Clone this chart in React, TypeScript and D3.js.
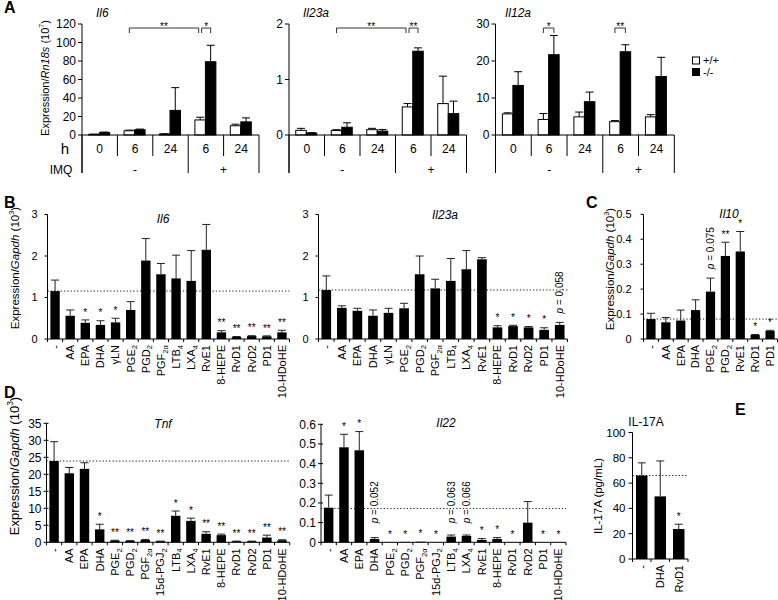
import React from 'react';
import * as d3 from 'd3';

const FONT = "'Liberation Sans', Arial, Helvetica, sans-serif";

// ---------------- Panel A data ----------------
const aTimes = ['0', '6', '24', '6', '24'];
const aImq = ['-', '+'];
const aLegend = ['+/+', '-/-'];

const aIl6Wt = [0.7, 4.6, 1.1, 16.3, 10.0];
const aIl6WtSem = [0.2, 0.7, 0.2, 2.9, 1.7];
const aIl6Ko = [2.5, 5.7, 26.6, 79.2, 14.2];
const aIl6KoSem = [0.7, 0.7, 24.6, 17.8, 4.3];

const aIl23Wt = [0.084, 0.08, 0.096, 0.506, 0.566];
const aIl23WtSem = [0.036, 0.016, 0.024, 0.06, 0.494];
const aIl23Ko = [0.036, 0.14, 0.07, 1.51, 0.385];
const aIl23KoSem = [0.005, 0.08, 0.03, 0.06, 0.225];

const aIl12Wt = [5.7, 4.2, 4.9, 3.6, 4.9];
const aIl12WtSem = [0.3, 1.6, 1.3, 0.3, 0.6];
const aIl12Ko = [13.4, 21.7, 9.0, 22.5, 15.8];
const aIl12KoSem = [3.7, 5.2, 2.6, 1.9, 5.2];

// ---------------- Panel B data ----------------
const bCats = ['-', 'AA', 'EPA', 'DHA', 'γLN', 'PGE_2', 'PGD_2', 'PGF_2α', 'LTB_4', 'LXA_4', 'RvE1', '8-HEPE', 'RvD1', 'RvD2', 'PD1', '10-HDoHE'];
const bIl6 = [1.155, 0.56, 0.39, 0.34, 0.4, 0.7, 1.89, 1.56, 1.46, 1.4, 2.15, 0.16, 0.05, 0.07, 0.065, 0.16];
const bIl6Sem = [0.265, 0.14, 0.07, 0.1, 0.1, 0.2, 0.53, 0.26, 0.56, 0.73, 0.61, 0.04, 0.01, 0.01, 0.01, 0.05];
const bIl6Sig = ['', '', '*', '*', '*', '', '', '', '', '', '', '**', '**', '**', '**', '**'];
const bIl23 = [1.18, 0.75, 0.68, 0.56, 0.63, 0.74, 1.56, 1.22, 1.4, 1.68, 1.92, 0.28, 0.31, 0.28, 0.22, 0.34];
const bIl23Sem = [0.34, 0.05, 0.06, 0.14, 0.11, 0.12, 0.44, 0.22, 0.54, 0.45, 0.04, 0.04, 0.02, 0.02, 0.05, 0.06];
const bIl23Sig = ['', '', '', '', '', '', '', '', '', '', '', '*', '*', '*', '*', ''];
const bIl23P = ['', '', '', '', '', '', '', '', '', '', '', '', '', '', '', '0.058'];

// ---------------- Panel C data ----------------
const cCats = ['-', 'AA', 'EPA', 'DHA', 'PGE_2', 'PGD_2', 'RvE1', 'RvD1', 'PD1'];
const cIl10 = [0.08, 0.067, 0.074, 0.116, 0.19, 0.333, 0.351, 0.016, 0.032];
const cIl10Sem = [0.023, 0.019, 0.042, 0.041, 0.054, 0.055, 0.08, 0.002, 0.003];
const cIl10Sig = ['', '', '', '', '', '**', '*', '*', '*'];
const cIl10P = ['', '', '', '', '0.075', '', '', '', ''];

// ---------------- Panel D data ----------------
const dCats = ['-', 'AA', 'EPA', 'DHA', 'PGE_2', 'PGD_2', 'PGF_2α', '15d-PGJ_2', 'LTB_4', 'LXA_4', 'RvE1', '8-HEPE', 'RvD1', 'RvD2', 'PD1', '10-HDoHE'];
const dTnf = [23.9, 20.3, 21.6, 3.8, 0.5, 0.4, 0.7, 0.3, 7.8, 6.3, 2.5, 2.1, 0.3, 0.3, 1.4, 0.6];
const dTnfSem = [5.7, 1.7, 1.8, 1.5, 0.1, 0.1, 0.15, 0.05, 1.4, 0.8, 0.6, 0.3, 0.05, 0.05, 0.7, 0.15];
const dTnfSig = ['', '', '', '*', '**', '**', '**', '**', '*', '*', '**', '**', '**', '**', '**', '**'];
const dIl22 = [0.176, 0.483, 0.468, 0.017, 0.001, 0.002, 0.003, 0.0005, 0.029, 0.032, 0.012, 0.017, 0.0005, 0.1, 0.0005, 0.0005];
const dIl22Sem = [0.064, 0.066, 0.095, 0.007, 0, 0, 0, 0, 0.008, 0.005, 0.007, 0.007, 0, 0.107, 0, 0];
const dIl22Sig = ['', '*', '*', '', '*', '*', '*', '*', '', '', '*', '*', '*', '', '*', '*'];
const dIl22P = ['', '', '', '0.052', '', '', '', '', '0.063', '0.066', '', '', '', '', '', ''];

// ---------------- Panel E data ----------------
const eCats = ['-', 'DHA', 'RvD1'];
const eIl17 = [66, 49.5, 23.7];
const eIl17Sem = [10, 28, 3.8];
const eIl17Sig = ['', '', '*'];

const range = (a: number, b: number, s: number) => d3.range(a, b + s / 2, s);

function parseLabel(s: string): [string, string] {
  const i = s.indexOf('_');
  if (i < 0) return [s, ''];
  return [s.slice(0, i), s.slice(i + 1)];
}

function YLabel({ x, cy, fs, gene, exp }: any) {
  return (
    <text transform={`translate(${x},${cy}) rotate(-90)`} textAnchor="middle" dy="0.35em" fontSize={fs}>
      Expression/<tspan fontStyle="italic">{gene}</tspan> (10
      <tspan fontSize={fs * 0.65} dy={-fs * 0.4}>{exp}</tspan>
      <tspan dy={fs * 0.4}>)</tspan>
    </text>
  );
}

function GroupPanel(p: any) {
  const { x0, x1, y0, yTop, max, ticks, title, titleX, wt, wtSem, ko, koSem, brackets, rowLabels } = p;
  const y = d3.scaleLinear().domain([0, max]).range([y0, yTop]);
  const gx = d3.scaleBand<number>().domain(aTimes.map((_, i) => i)).range([x0, x1]);
  const bw = 10.5;
  const barLeft = (g: number, w: number) => (gx(g) as number) + gx.bandwidth() / 2 - bw + w * bw - 0.5;
  const barC = (g: number, w: number) => barLeft(g, w) + bw / 2;
  const bounds = d3.range(aTimes.length + 1).map((i) => x0 + i * gx.bandwidth());
  const yb = yTop + 4;
  const series = [
    { v: wt, s: wtSem, fill: '#fff' },
    { v: ko, s: koSem, fill: '#000' },
  ];
  return (
    <g>
      <text x={titleX} y={17} fontSize={12} fontStyle="italic">{title}</text>
      {ticks.map((t: number) => (
        <g key={t}>
          <line x1={x0 - 4} x2={x0} y1={y(t)} y2={y(t)} stroke="#000" />
          <text x={x0 - 6} y={y(t)} dy="0.35em" textAnchor="end" fontSize={12}>{t}</text>
        </g>
      ))}
      {series.map((sr, w) =>
        sr.v.map((v: number, g: number) => (
          <g key={`${w}-${g}`}>
            <line x1={barC(g, w)} x2={barC(g, w)} y1={y(v)} y2={y(v + sr.s[g])} stroke="#000" />
            <line x1={barC(g, w) - 4} x2={barC(g, w) + 4} y1={y(v + sr.s[g])} y2={y(v + sr.s[g])} stroke="#000" />
            <rect x={barLeft(g, w)} y={y(v)} width={bw} height={y0 - y(v)} fill={sr.fill} stroke="#000" strokeWidth={1} />
          </g>
        ))
      )}
      <line x1={x0} x2={x0} y1={yTop} y2={y0 + 38} stroke="#000" />
      <line x1={x0} x2={x1} y1={y0} y2={y0} stroke="#000" />
      {bounds.map((bx, i) => {
        const long = i === 0 || i === 3 || i === aTimes.length;
        return <line key={i} x1={bx} x2={bx} y1={y0} y2={y0 + (long ? 38 : 21)} stroke="#000" />;
      })}
      {aTimes.map((t, i) => (
        <text key={i} x={(gx(i) as number) + gx.bandwidth() / 2} y={y0 + 18} textAnchor="middle" fontSize={12}>{t}</text>
      ))}
      <text x={(bounds[0] + bounds[3]) / 2} y={y0 + 39} textAnchor="middle" fontSize={12}>{aImq[0]}</text>
      <text x={(bounds[3] + bounds[5]) / 2} y={y0 + 39} textAnchor="middle" fontSize={12}>{aImq[1]}</text>
      {rowLabels && (
        <g>
          <text x={65} y={y0 + 19} textAnchor="middle" fontSize={15}>h</text>
          <text x={61} y={y0 + 39} textAnchor="middle" fontSize={12}>IMQ</text>
        </g>
      )}
      {brackets.map((b: any, i: number) => {
        const xa = barC(b.from[0], b.from[1]) + (b.dA || 0);
        const xz = barC(b.to[0], b.to[1]) + (b.dZ || 0);
        return (
          <g key={i}>
            <path d={`M${xa},${yb + 5}V${yb}H${xz}V${yb + 5}`} fill="none" stroke="#333" />
            <text x={(xa + xz) / 2} y={yb + 1.5} textAnchor="middle" fontSize={10}>{b.label}</text>
          </g>
        );
      })}
    </g>
  );
}

function BarPanel(p: any) {
  const { x0, x1, y0, yTop, max, ticks, fmt, cats, values, sems, sig, pLab, refVal, tickFs, labFs, gap, tickOut, tickIn, title, titleX, titleY } = p;
  const y = d3.scaleLinear().domain([0, max]).range([y0, yTop]);
  const idx = cats.map((_: string, i: number) => i);
  const xb = d3.scaleBand<number>().domain(idx).range([x0, x1]).paddingInner(0.38).paddingOuter(0.19);
  const step = xb.step();
  const f = fmt || ((t: number) => String(t));
  return (
    <g>
      {title && <text x={titleX} y={titleY} fontSize={12} fontStyle="italic" textAnchor="middle">{title}</text>}
      {refVal != null && (
        <line x1={x0} x2={x1} y1={y(refVal)} y2={y(refVal)} stroke="#222" strokeWidth={1} strokeDasharray="1.3 2" />
      )}
      {values.map((v: number, i: number) => {
        const cx = (xb(i) as number) + xb.bandwidth() / 2;
        const top = y(v + sems[i]);
        return (
          <g key={i}>
            {sems[i] > 0 && (
              <g>
                <line x1={cx} x2={cx} y1={y(v)} y2={top} stroke="#222" />
                <line x1={cx - 4} x2={cx + 4} y1={top} y2={top} stroke="#222" />
              </g>
            )}
            <rect x={xb(i)} y={y(v)} width={xb.bandwidth()} height={Math.max(0, y0 - y(v))} fill="#000" />
            {sig[i] && (
              <text x={cx} y={top - 4.3} textAnchor="middle" fontSize={10}>{sig[i]}</text>
            )}
            {pLab && pLab[i] && (
              <text transform={`translate(${cx},${Math.min(top - 9, y0 - 19)}) rotate(-90)`} dy="0.35em" fontSize={10}>
                <tspan fontStyle="italic">p</tspan> = {pLab[i]}
              </text>
            )}
          </g>
        );
      })}
      <line x1={x0} x2={x0} y1={yTop} y2={y0} stroke="#000" />
      <line x1={x0} x2={x1} y1={y0} y2={y0} stroke="#000" />
      {ticks.map((t: number) => (
        <g key={t}>
          <line x1={x0 - tickOut} x2={x0 + tickIn} y1={y(t)} y2={y(t)} stroke="#000" />
          <text x={x0 - gap} y={y(t)} dy="0.35em" textAnchor="end" fontSize={tickFs}>{f(t)}</text>
        </g>
      ))}
      {d3.range(cats.length + 1).map((i) => (
        <line key={i} x1={x0 + i * step} x2={x0 + i * step} y1={y0} y2={y0 + 3} stroke="#000" />
      ))}
      {cats.map((c: string, i: number) => {
        const [main, sub] = parseLabel(c);
        const cx = (xb(i) as number) + xb.bandwidth() / 2;
        return (
          <text key={i} transform={`translate(${cx},${y0 + 6}) rotate(-90)`} textAnchor="end" dy="0.35em" fontSize={labFs}>
            {main}
            {sub && <tspan fontSize={labFs * 0.7} dy={labFs * 0.25}>{sub}</tspan>}
          </text>
        );
      })}
    </g>
  );
}

const dec1 = (t: number) => (t === 0 ? '0' : t.toFixed(1));

export default function App() {
  return (
    <svg width={778} height={600} style={{ position: 'absolute', left: 0, top: 0, background: '#fff' }} fontFamily={FONT}>
      <rect width={778} height={600} fill="#fff" />
      {/* Panel letters */}
      <text x={4} y={13} fontSize={16} fontWeight="bold">A</text>
      <text x={4} y={208} fontSize={16} fontWeight="bold">B</text>
      <text x={586} y={208} fontSize={16} fontWeight="bold">C</text>
      <text x={4} y={398} fontSize={16} fontWeight="bold">D</text>
      <text x={735} y={415} fontSize={16} fontWeight="bold">E</text>

      {/* Panel A */}
      <YLabel x={45} cy={78} fs={11} gene="Rn18s" exp="7" />
      <GroupPanel x0={82} x1={259} y0={135} yTop={24} max={120} ticks={range(0, 120, 20)} title="Il6" titleX={96}
        wt={aIl6Wt} wtSem={aIl6WtSem} ko={aIl6Ko} koSem={aIl6KoSem} rowLabels
        brackets={[{ from: [1, 0], to: [3, 0], label: '**', dZ: -1.5 }, { from: [3, 0], to: [3, 1], label: '*', dA: 1.5 }]} />
      <GroupPanel x0={289} x1={466.5} y0={135} yTop={24} max={2} ticks={[0, 1, 2]} title="Il23a" titleX={303}
        wt={aIl23Wt} wtSem={aIl23WtSem} ko={aIl23Ko} koSem={aIl23KoSem}
        brackets={[{ from: [1, 0], to: [3, 0], label: '**', dZ: -1.5 }, { from: [3, 0], to: [3, 1], label: '**', dA: 1.5 }]} />
      <GroupPanel x0={495.5} x1={674.3} y0={135} yTop={24} max={30} ticks={[0, 10, 20, 30]} title="Il12a" titleX={505}
        wt={aIl12Wt} wtSem={aIl12WtSem} ko={aIl12Ko} koSem={aIl12KoSem}
        brackets={[{ from: [1, 0], to: [1, 1], label: '*' }, { from: [3, 0], to: [3, 1], label: '**' }]} />
      {/* legend */}
      <rect x={692.5} y={57} width={7} height={7} fill="#fff" stroke="#000" />
      <text x={703} y={64} fontSize={11}>{aLegend[0]}</text>
      <rect x={692.5} y={68.5} width={7} height={7} fill="#000" stroke="#000" />
      <text x={703} y={76} fontSize={11}>{aLegend[1]}</text>

      {/* Panel B */}
      <YLabel x={15} cy={268} fs={11.5} gene="Gapdh" exp="3" />
      <BarPanel x0={47.5} x1={289.5} y0={339} yTop={214.5} max={3} ticks={[0, 1, 2, 3]} cats={bCats}
        values={bIl6} sems={bIl6Sem} sig={bIl6Sig} refVal={bIl6[0]} tickFs={11} labFs={11} gap={10} tickOut={3} tickIn={0}
        title="Il6" titleX={163} titleY={223} />
      <BarPanel x0={318.5} x1={567.5} y0={339} yTop={214.5} max={3} ticks={[0, 1, 2, 3]} cats={bCats}
        values={bIl23} sems={bIl23Sem} sig={bIl23Sig} pLab={bIl23P} refVal={bIl23[0]} tickFs={11} labFs={11} gap={10} tickOut={3} tickIn={0}
        title="Il23a" titleX={445} titleY={219} />

      {/* Panel C */}
      <YLabel x={610} cy={269} fs={11.5} gene="Gapdh" exp="3" />
      <BarPanel x0={643.5} x1={777.5} y0={339} yTop={214.3} max={0.5} ticks={range(0, 0.5, 0.1)} fmt={dec1} cats={cCats}
        values={cIl10} sems={cIl10Sem} sig={cIl10Sig} pLab={cIl10P} refVal={cIl10[0]} tickFs={11} labFs={11} gap={12} tickOut={3} tickIn={0}
        title="Il10" titleX={729} titleY={218} />

      {/* Panel D */}
      <YLabel x={14} cy={466} fs={13} gene="Gapdh" exp="3" />
      <BarPanel x0={46.5} x1={289.7} y0={542.3} yTop={423.3} max={35} ticks={range(0, 35, 5)} cats={dCats}
        values={dTnf} sems={dTnfSem} sig={dTnfSig} refVal={dTnf[0]} tickFs={12} labFs={11} gap={5} tickOut={3} tickIn={2}
        title="Tnf" titleX={163} titleY={428} />
      <BarPanel x0={321} x1={566} y0={542.3} yTop={424.3} max={0.6} ticks={range(0, 0.6, 0.1)} fmt={dec1} cats={dCats}
        values={dIl22} sems={dIl22Sem} sig={dIl22Sig} pLab={dIl22P} refVal={0.172} tickFs={12} labFs={11} gap={5} tickOut={3} tickIn={2}
        title="Il22" titleX={446} titleY={427} />

      {/* Panel E */}
      <text x={598} y={496} transform="rotate(-90 598 496)" textAnchor="middle" dy="0.35em" fontSize={11.5}>IL-17A (pg/mL)</text>
      <text x={646} y={426} textAnchor="middle" fontSize={12}>IL-17A</text>
      <BarPanel x0={632.5} x1={688} y0={559} yTop={432.5} max={100} ticks={range(0, 100, 20)} cats={eCats}
        values={eIl17} sems={eIl17Sem} sig={eIl17Sig} refVal={eIl17[0]} tickFs={11.5} labFs={11} gap={7} tickOut={4} tickIn={0} />
    </svg>
  );
}
